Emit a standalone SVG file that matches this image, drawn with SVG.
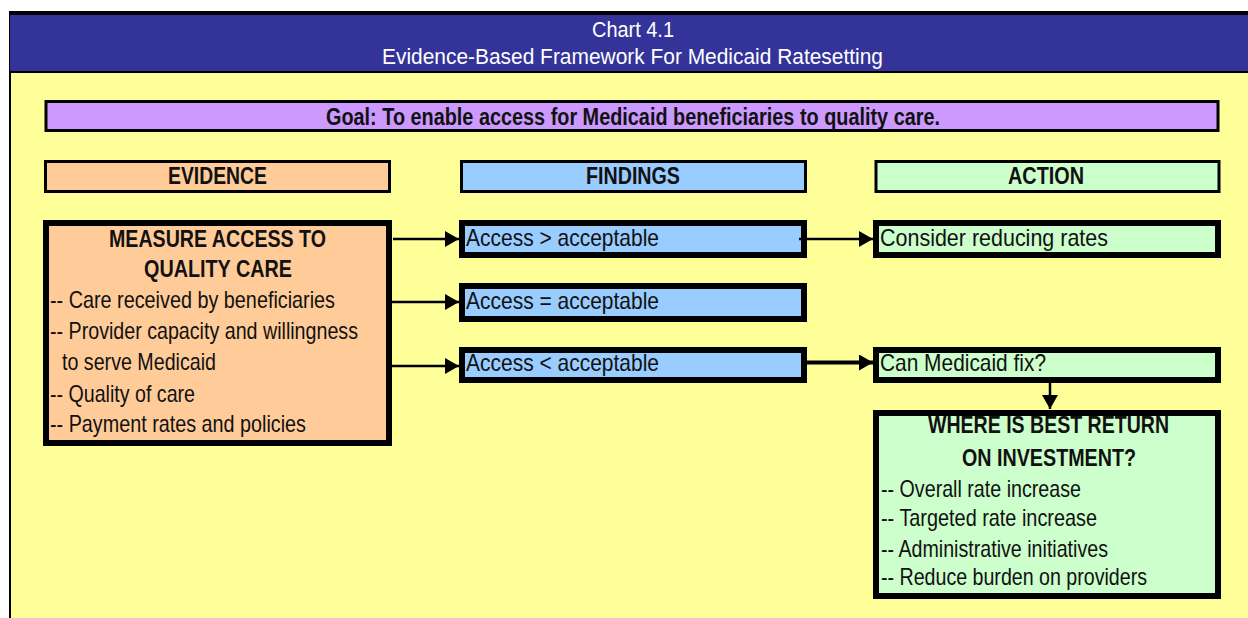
<svg xmlns="http://www.w3.org/2000/svg" width="1248" height="618" viewBox="0 0 1248 618">
  <style>
    text { font-family: "Liberation Sans Narrow", "Liberation Sans", Arial, sans-serif; font-size: 24px; fill: #111; }
    .title { fill: #fff; font-size: 22px; }
    .b { font-weight: bold; }
    .mid { text-anchor: middle; }
    .box { stroke: #000; }
    .thin { stroke-width: 3; }
    .thick { stroke-width: 6; }
    .ev { fill: #FFCC99; }
    .fi { fill: #99CCFF; }
    .ac { fill: #CCFFCC; }
    .conn { stroke: #000; fill: none; }
  </style>
  <defs>
    <marker id="head" markerUnits="userSpaceOnUse" markerWidth="14" markerHeight="16" refX="14" refY="8" orient="auto">
      <path d="M0,0 L14,8 L0,16 Z" fill="#000"/>
    </marker>
  </defs>

  <!-- page -->
  <rect x="0" y="0" width="1248" height="618" fill="#fff"/>
  <rect x="9" y="11" width="1239" height="607" fill="#000"/>
  <rect x="11" y="73" width="1237" height="545" fill="#FFFF99"/>
  <rect x="10" y="15" width="1238" height="56" fill="#333399"/>

  <!-- header -->
  <g id="header">
    <text class="title mid" x="633" y="37" textLength="82" lengthAdjust="spacingAndGlyphs">Chart 4.1</text>
    <text class="title mid" x="632.5" y="64" textLength="501" lengthAdjust="spacingAndGlyphs">Evidence-Based Framework For Medicaid Ratesetting</text>
  </g>

  <g id="goal">
    <rect class="box thin" x="46" y="101.5" width="1172" height="29" fill="#CC99FF"/>
    <text class="mid b" x="633" y="125" textLength="614" lengthAdjust="spacingAndGlyphs">Goal: To enable access for Medicaid beneficiaries to quality care.</text>
  </g>

  <!-- column headings -->
  <g id="evidence-head">
    <rect class="box thin ev" x="45.5" y="161.5" width="344" height="30"/>
    <text class="mid b" x="217.5" y="184" textLength="99" lengthAdjust="spacingAndGlyphs">EVIDENCE</text>
  </g>
  <g id="findings-head">
    <rect class="box thin fi" x="461.5" y="161.5" width="344" height="30"/>
    <text class="mid b" x="633" y="184" textLength="94" lengthAdjust="spacingAndGlyphs">FINDINGS</text>
  </g>
  <g id="action-head">
    <rect class="box thin ac" x="876" y="161.5" width="343" height="30"/>
    <text class="mid b" x="1046" y="184" textLength="76" lengthAdjust="spacingAndGlyphs">ACTION</text>
  </g>

  <!-- evidence -->
  <g id="measure">
    <rect class="box thick ev" x="46" y="223" width="343" height="220"/>
    <text class="mid b" x="217.5" y="247" textLength="217" lengthAdjust="spacingAndGlyphs">MEASURE ACCESS TO</text>
    <text class="mid b" x="218" y="277" textLength="148" lengthAdjust="spacingAndGlyphs">QUALITY CARE</text>
    <text x="50" y="308" textLength="285" lengthAdjust="spacingAndGlyphs">-- Care received by beneficiaries</text>
    <text x="50" y="339" textLength="308" lengthAdjust="spacingAndGlyphs">-- Provider capacity and willingness</text>
    <text x="62" y="370" textLength="154" lengthAdjust="spacingAndGlyphs">to serve Medicaid</text>
    <text x="50" y="402" textLength="145" lengthAdjust="spacingAndGlyphs">-- Quality of care</text>
    <text x="50" y="432" textLength="256" lengthAdjust="spacingAndGlyphs">-- Payment rates and policies</text>
  </g>

  <!-- findings -->
  <g id="access-above">
    <rect class="box thick fi" x="462" y="223" width="342" height="32"/>
    <text x="466" y="246" textLength="193" lengthAdjust="spacingAndGlyphs">Access &gt; acceptable</text>
  </g>
  <g id="access-equal">
    <rect class="box thick fi" x="462" y="286" width="342" height="33"/>
    <text x="466" y="309" textLength="193" lengthAdjust="spacingAndGlyphs">Access = acceptable</text>
  </g>
  <g id="access-below">
    <rect class="box thick fi" x="462" y="350" width="342" height="30"/>
    <text x="466" y="371" textLength="193" lengthAdjust="spacingAndGlyphs">Access &lt; acceptable</text>
  </g>

  <!-- actions -->
  <g id="reduce-rates">
    <rect class="box thick ac" x="876" y="223" width="342" height="32"/>
    <text x="880" y="246" textLength="228" lengthAdjust="spacingAndGlyphs">Consider reducing rates</text>
  </g>
  <g id="medicaid-fix">
    <rect class="box thick ac" x="876" y="350" width="342" height="30"/>
    <text x="880" y="371" textLength="166" lengthAdjust="spacingAndGlyphs">Can Medicaid fix?</text>
  </g>
  <g id="best-return">
    <rect class="box thick ac" x="876" y="413" width="342" height="183"/>
    <text class="mid b" x="1048.5" y="433" textLength="241" lengthAdjust="spacingAndGlyphs">WHERE IS BEST RETURN</text>
    <text class="mid b" x="1049" y="466" textLength="174" lengthAdjust="spacingAndGlyphs">ON INVESTMENT?</text>
    <text x="881" y="497" textLength="200" lengthAdjust="spacingAndGlyphs">-- Overall rate increase</text>
    <text x="881" y="526" textLength="216" lengthAdjust="spacingAndGlyphs">-- Targeted rate increase</text>
    <text x="881" y="557" textLength="227" lengthAdjust="spacingAndGlyphs">-- Administrative initiatives</text>
    <text x="881" y="585" textLength="266" lengthAdjust="spacingAndGlyphs">-- Reduce burden on providers</text>
  </g>

  <!-- connectors -->
  <g id="connectors">
    <line class="conn" x1="393" y1="239" x2="459" y2="239" stroke-width="2.5" marker-end="url(#head)"/>
    <line class="conn" x1="390" y1="302" x2="459" y2="302" stroke-width="2.5" marker-end="url(#head)"/>
    <line class="conn" x1="390" y1="366" x2="459" y2="366" stroke-width="2.5" marker-end="url(#head)"/>
    <line class="conn" x1="799" y1="239" x2="873" y2="239" stroke-width="2.5" marker-end="url(#head)"/>
    <line class="conn" x1="806" y1="362.5" x2="873" y2="362.5" stroke-width="4" marker-end="url(#head)"/>
    <line class="conn" x1="1050" y1="383" x2="1050" y2="409" stroke-width="2.5" marker-end="url(#head)"/>
  </g>
</svg>
